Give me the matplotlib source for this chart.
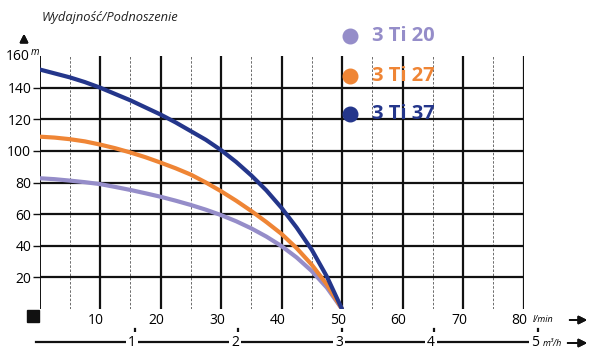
import matplotlib.pyplot as plt
from matplotlib.transforms import ScaledTranslation

# flow (l/min) and head (m)
flow = [0, 2.5, 5, 7.5, 10, 12.5, 15, 17.5, 20, 22.5, 25,
        27.5, 30, 32.5, 35, 37.5, 40, 42.5, 45, 47.5, 50]
head_ti20 = [82.7, 82.1, 81.2, 80.2, 79, 77.2, 75.3, 73.2, 71, 68.5, 65.8,
             62.8, 59.4, 55.5, 51, 45.8, 39.8, 32.6, 24, 13.5, 0]
head_ti27 = [109, 108.4, 107.4, 106, 104, 101.7, 99, 96, 92.6, 89, 85,
             80, 74.5, 68.5, 62, 55, 47.5, 38.5, 28, 15.5, 0]
head_ti37 = [151.5, 149, 146.5, 143.5, 140, 136, 132, 127.5, 123, 118, 112.5,
             107, 100.5, 93, 84.5, 75, 64, 51.5, 37.5, 20.5, 0]

names = ['3 Ti 20', '3 Ti 27', '3 Ti 37']
colors = ['#958dc9', '#ef8535', '#24368b']

xticks = [10, 20, 30, 40, 50, 60, 70, 80]
yticks = [20, 40, 60, 80, 100, 120, 140]
m3h_labels = ['1', '2', '3', '4', '5']
m3h_at_lmin = [15.8, 32.8, 50, 65.2, 82.4]  # where the m3/h marks sit on the l/min scale

plt.rcParams['font.family'] = ['Open Sans', 'DejaVu Sans']

W, H = 595, 354
fig = plt.figure(figsize=(W / 100, H / 100), dpi=100)
ax = fig.add_axes([39.5 / W, 1 - 309 / H, 484 / W, 253 / H])
ax.set_xlim(0, 80)
ax.set_ylim(0, 160)
for s in ax.spines.values():
    s.set_visible(False)

# grid
for x in range(5, 80, 10):
    ax.plot([x, x], [0, 160], color='#555555', lw=0.6, ls=(0, (3, 2)), zorder=1)
for x in xticks:
    ax.plot([x, x], [0, 160], color='#111111', lw=1.6, zorder=2)
for y in yticks:
    ax.plot([0, 80], [y, y], color='#111111', lw=1.6, zorder=2)
ax.plot([0, 80], [0, 0], color='#444444', lw=0.7, ls=(0, (2, 1.5)), zorder=2)
ax.plot([0, 0], [0, 160], color='#111111', lw=1.4, zorder=2)

# curves
for head, c in zip([head_ti20, head_ti27, head_ti37], colors):
    ax.plot(flow, head, color=c, lw=3.0, solid_capstyle='round',
            solid_joinstyle='round', zorder=5)

# y ticks
ax.set_yticks(yticks)
ax.set_yticklabels([str(v) for v in yticks], fontsize=10)
ax.tick_params(axis='y', length=5, width=1, color='#111111', pad=1)
ax.text(-1.6, 160, '160', ha='right', va='center', fontsize=10)
ax.text(-1.4, 162, 'm', ha='left', va='center', fontsize=7, style='italic')

# x ticks
ax.set_xticks(xticks)
ax.set_xticklabels([str(v) for v in xticks], fontsize=10)
ax.tick_params(axis='x', length=0, pad=3)
off = ScaledTranslation(-4 / 100, 0, fig.dpi_scale_trans)
for lab in ax.get_xticklabels():
    lab.set_transform(lab.get_transform() + off)
fig.text(533 / W, 1 - 320 / H, 'l/min', fontsize=6.5, style='italic', va='center')
fig.patches.append(plt.Rectangle((27 / W, 1 - 322 / H), 12 / W, 12 / H,
                                 transform=fig.transFigure, color='#111111'))

# second scale m3/h
yb = 342
fig.add_artist(plt.Line2D([36 / W, 532 / W], [1 - yb / H, 1 - yb / H],
                          color='#111111', lw=1.6, transform=fig.transFigure))
for lab, pos in zip(m3h_labels, m3h_at_lmin):
    xp = (39.5 + pos * 484 / 80) / W
    fig.add_artist(plt.Line2D([xp, xp], [1 - 329 / H, 1 - 335 / H],
                              color='#111111', lw=1.6, transform=fig.transFigure))
    fig.text(xp - 3 / W, 1 - yb / H, lab, fontsize=10, ha='center', va='center',
             bbox=dict(facecolor='white', edgecolor='none', pad=1.5))
fig.text(543 / W, 1 - 343 / H, 'm³/h', fontsize=6.5, style='italic', va='center',
         bbox=dict(facecolor='white', edgecolor='none', pad=1))

# arrows
ap = dict(arrowstyle='-|>', color='#111111', lw=1.4, mutation_scale=12)
fig.add_artist(plt.annotate('', xy=(590 / W, 1 - 320 / H), xytext=(567 / W, 1 - 320 / H),
                            xycoords='figure fraction', arrowprops=ap))
fig.add_artist(plt.annotate('', xy=(590 / W, 1 - 343 / H), xytext=(565 / W, 1 - 343 / H),
                            xycoords='figure fraction', arrowprops=ap))
fig.add_artist(plt.annotate('', xy=(24 / W, 1 - 31 / H), xytext=(24 / W, 1 - 44 / H),
                            xycoords='figure fraction', arrowprops=ap))

# title
fig.text(42 / W, 1 - 17 / H, 'Wydajność/Podnoszenie', fontsize=9.3, style='italic',
         va='center', color='#222222')

# legend
for i, (n, c) in enumerate(zip(names, colors)):
    yl = [36, 76, 114][i]
    fig.add_artist(plt.Line2D([350 / W], [1 - yl / H], marker='o', markersize=10.5,
                              color=c, transform=fig.transFigure))
    fig.text(372 / W, 1 - yl / H, n, fontsize=14.5, fontweight='bold', color=c, va='center')

fig.savefig('out.png', dpi=100)
